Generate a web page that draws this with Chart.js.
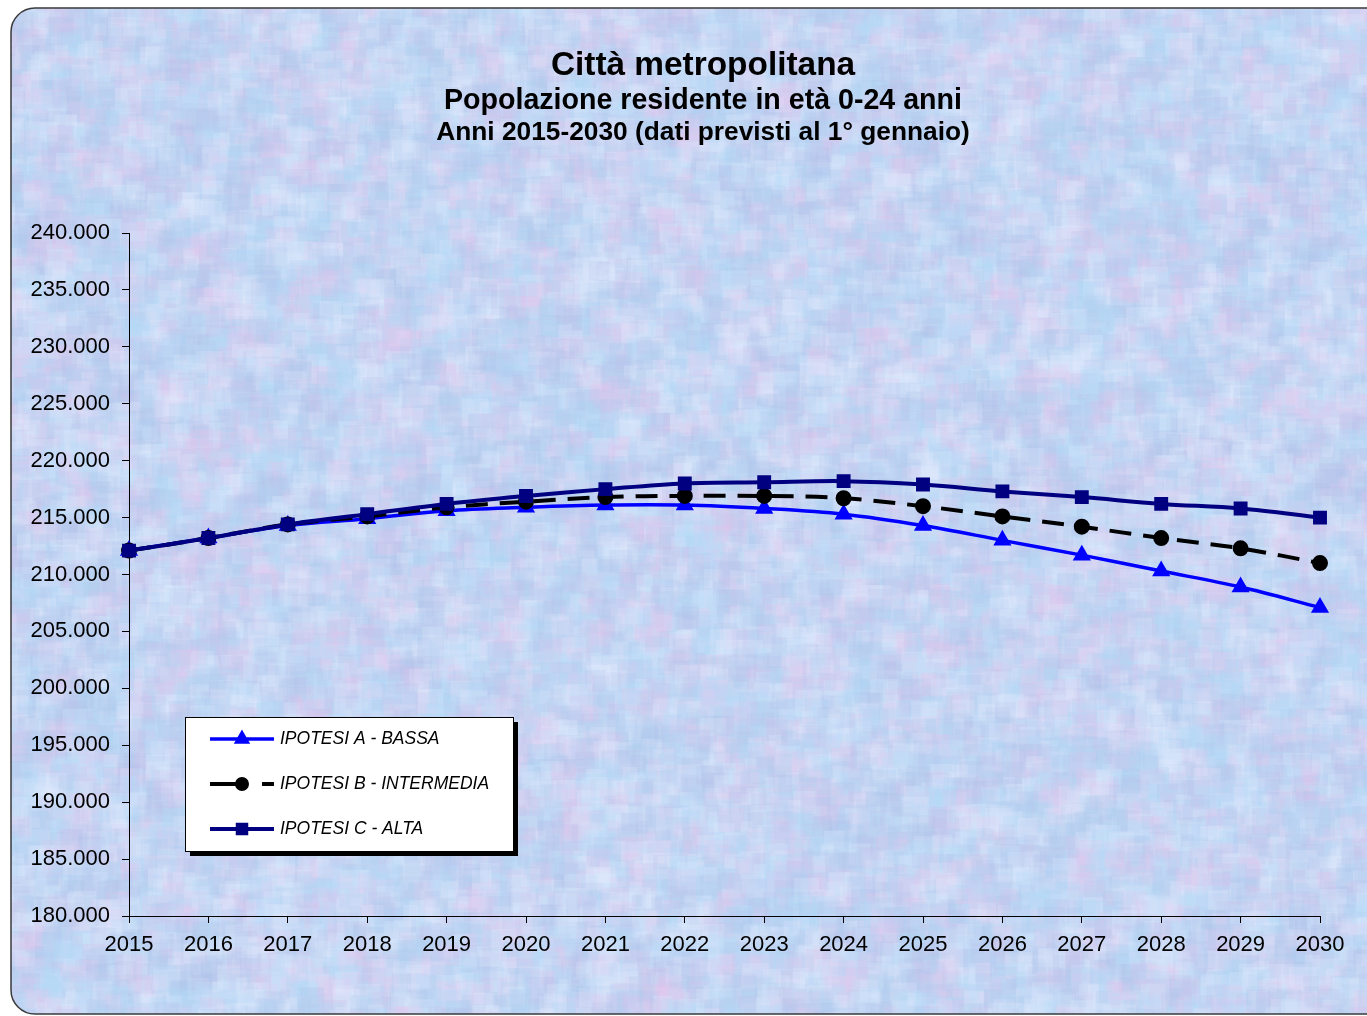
<!DOCTYPE html>
<html>
<head>
<meta charset="utf-8">
<script src="https://cdn.jsdelivr.net/npm/chart.js@4/dist/chart.umd.min.js"></script>
<style>
  html, body { margin: 0; padding: 0; background: #fff; }
  #wrap { width: 1367px; height: 1016px; }
</style>
</head>
<body>
<div id="wrap"><canvas id="chart" width="1367" height="1016"></canvas></div>
<script>
(function(){
  const years = ["2015","2016","2017","2018","2019","2020","2021","2022","2023","2024","2025","2026","2027","2028","2029","2030"];
  const ipotesiA = [212100,213200,214300,214900,215600,215900,216100,216100,215800,215300,214300,213000,211700,210300,208900,207100];
  const ipotesiB = [212100,213200,214400,215100,215900,216400,216800,216900,216900,216700,216000,215100,214200,213200,212300,211000];
  const ipotesiC = [212100,213200,214400,215300,216200,216900,217500,218000,218100,218200,217900,217300,216800,216200,215800,215000];
  const seriesNames = ["IPOTESI A - BASSA", "IPOTESI B - INTERMEDIA", "IPOTESI C - ALTA"];
  const titleLines = [
    "Città metropolitana",
    "Popolazione residente in età 0-24 anni",
    "Anni 2015-2030 (dati previsti al 1° gennaio)"
  ];
  const yMin = 180000, yMax = 240000, yStep = 5000;

  const FONT = "'Liberation Sans', Arial, sans-serif";

  function fmt(v){
    return String(Math.round(v)).replace(/\B(?=(\d{3})+(?!\d))/g, ".");
  }

  // cheap deterministic hash for the paper texture
  function hash(i, j){
    const s = Math.sin(i * 127.1 + j * 311.7) * 43758.5453;
    return s - Math.floor(s);
  }

  let texture = null;
  function buildTexture(w, h){
    const c = document.createElement("canvas");
    c.width = w; c.height = h;
    const g = c.getContext("2d");
    g.fillStyle = "#c8d9f4";
    g.fillRect(0, 0, w, h);
    const cols = ["rgba(235,195,235,0.16)", "rgba(175,220,250,0.2)", "rgba(180,190,235,0.18)", "rgba(228,236,255,0.22)", "rgba(165,200,235,0.16)"];
    for (let j = -10; j < h + 10; j += 10){
      for (let i = -10; i < w + 10; i += 10){
        const r = hash(i, j);
        g.fillStyle = cols[Math.floor(r * cols.length)];
        const s = 5 + hash(j, i) * 9;
        g.fillRect(i + hash(i+1, j) * 10 - s, j + hash(i, j+1) * 10 - s, s * 2, s * 2);
      }
    }
    return c;
  }

  function roundRect(ctx, x, y, w, h, r){
    ctx.beginPath();
    ctx.moveTo(x + r, y);
    ctx.lineTo(x + w - r, y);
    ctx.arcTo(x + w, y, x + w, y + r, r);
    ctx.lineTo(x + w, y + h - r);
    ctx.arcTo(x + w, y + h, x + w - r, y + h, r);
    ctx.lineTo(x + r, y + h);
    ctx.arcTo(x, y + h, x, y + h - r, r);
    ctx.lineTo(x, y + r);
    ctx.arcTo(x, y, x + r, y, r);
    ctx.closePath();
  }

  const backdrop = {
    id: "backdrop",
    beforeDraw(chart){
      const ctx = chart.ctx;
      if (!texture) texture = buildTexture(chart.width, chart.height);
      ctx.save();
      ctx.fillStyle = "#ffffff";
      ctx.fillRect(0, 0, chart.width, chart.height);
      roundRect(ctx, 11, 8, 1400, 1006, 24);
      ctx.save();
      ctx.clip();
      ctx.drawImage(texture, 0, 0);
      ctx.restore();
      ctx.lineWidth = 1.5;
      ctx.strokeStyle = "#3a3a3a";
      ctx.stroke();

      // titles
      ctx.fillStyle = "#000";
      ctx.textAlign = "center";
      ctx.textBaseline = "middle";
      const specs = [[29, 66, 304], [24, 101, 518], [22, 133, 533]];
      titleLines.forEach((t, k) => {
        const [size, y, target] = specs[k];
        ctx.font = `bold ${size}px ${FONT}`;
        const w = ctx.measureText(t).width;
        const fs = size * target / w;
        ctx.font = `bold ${fs.toFixed(1)}px ${FONT}`;
        ctx.fillText(t, 703, y);
      });
      ctx.restore();
    }
  };

  const legendBox = {
    id: "legendBox",
    afterDraw(chart){
      const ctx = chart.ctx;
      const x = 185, y = 717, w = 328, h = 134;
      ctx.save();
      ctx.fillStyle = "#000";
      ctx.fillRect(x + 5, y + 5, w, h);
      ctx.fillStyle = "#fff";
      ctx.fillRect(x, y, w, h);
      ctx.lineWidth = 1;
      ctx.strokeStyle = "#000";
      ctx.strokeRect(x + 0.5, y + 0.5, w, h);
      const rows = [739, 784, 829];
      chart.data.datasets.forEach((ds, k) => {
        const ly = rows[k];
        ctx.strokeStyle = ds.borderColor;
        ctx.lineWidth = ds.borderWidth;
        ctx.setLineDash([]);
        ctx.beginPath();
        if (ds.borderDash && ds.borderDash.length){
          ctx.moveTo(210, ly); ctx.lineTo(246, ly);
          ctx.moveTo(262, ly); ctx.lineTo(274, ly);
        } else {
          ctx.moveTo(210, ly); ctx.lineTo(274, ly);
        }
        ctx.stroke();
        ctx.fillStyle = ds.borderColor;
        Chart.helpers.drawPoint(ctx, {
          pointStyle: ds.pointStyle,
          radius: ds.pointStyle === "circle" ? 5 : ds.pointRadius - 1,
          borderWidth: 1
        }, 242, ly);
        ctx.fillStyle = "#000";
        ctx.font = `italic 17.5px ${FONT}`;
        ctx.textAlign = "left";
        ctx.textBaseline = "middle";
        ctx.fillText(seriesNames[k], 280, ly);
      });
      ctx.restore();
    }
  };

  function lineSet(label, data, color, style, radius, width, dash, order){
    return {
      label, data,
      borderColor: color,
      backgroundColor: color,
      pointBackgroundColor: color,
      pointBorderColor: color,
      borderWidth: width,
      borderDash: dash,
      pointStyle: style,
      pointRadius: radius,
      pointHoverRadius: radius,
      tension: 0.35,
      fill: false,
      order
    };
  }

  const ctx = document.getElementById("chart").getContext("2d");
  new Chart(ctx, {
    type: "line",
    data: {
      labels: years,
      datasets: [
        lineSet(seriesNames[0], ipotesiA, "#0000ff", "triangle", 7, 3.5, [], 2),
        lineSet(seriesNames[1], ipotesiB, "#000000", "circle", 6, 4, [22, 12], 1),
        lineSet(seriesNames[2], ipotesiC, "#000080", "rect", 7, 4, [], 0)
      ]
    },
    options: {
      responsive: false,
      animation: false,
      events: [],
      layout: { padding: { top: 233, right: 47, left: 0, bottom: 0 } },
      plugins: {
        legend: { display: false },
        title: { display: false },
        tooltip: { enabled: false }
      },
      scales: {
        x: {
          type: "category",
          offset: false,
          grid: { drawOnChartArea: false, drawTicks: true, tickLength: 7, color: "#000" },
          border: { display: true, color: "#000", width: 1 },
          ticks: { color: "#000", font: { family: FONT, size: 22 }, padding: 9, maxRotation: 0, autoSkip: false },
          afterFit(scale){ scale.height = 100; }
        },
        y: {
          min: yMin, max: yMax,
          grid: { drawOnChartArea: false, drawTicks: true, tickLength: 7, color: "#000" },
          border: { display: true, color: "#000", width: 1 },
          ticks: { stepSize: yStep, color: "#000", font: { family: FONT, size: 22 }, padding: 12, callback: v => fmt(v) },
          afterFit(scale){ scale.width = 129; }
        }
      }
    },
    plugins: [backdrop, legendBox]
  });
})();
</script>
</body>
</html>
